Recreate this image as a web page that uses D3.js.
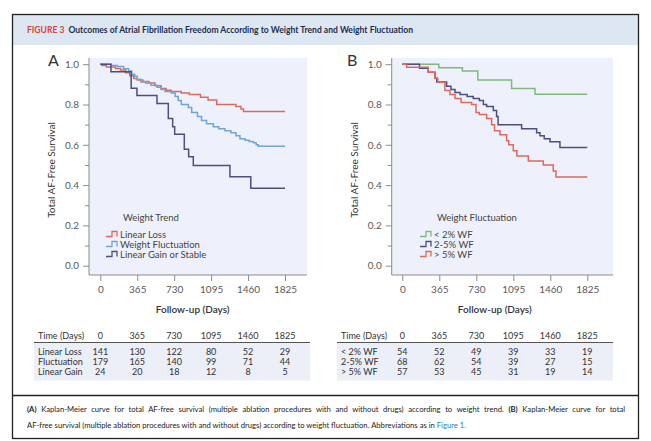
<!DOCTYPE html>
<html>
<head>
<meta charset="utf-8">
<script src="https://cdn.jsdelivr.net/npm/d3@7"></script>
<style>
  body { margin: 0; background: #fff; }
  text { font-family: Lato, "Open Sans", sans-serif; }
</style>
</head>
<body>
<svg id="fig" width="651" height="441"></svg>
<script>
// DATA
const dayTicks = [0, 365, 730, 1095, 1460, 1825];
const survTicks = [0, 0.2, 0.4, 0.6, 0.8, 1.0];
const survMinor = [0.1, 0.3, 0.5, 0.7, 0.9];

// panel A - weight trend (event day, survival after the step)
const lossDays = [0, 15, 60, 150, 200, 250, 290, 330, 365, 420, 480, 540, 600, 650, 700, 800, 880, 990, 1065, 1150, 1340, 1390, 1415];
const lossSurv = [1.0, 0.993, 0.986, 0.979, 0.971, 0.957, 0.943, 0.929, 0.921, 0.914, 0.907, 0.893, 0.879, 0.871, 0.864, 0.857, 0.85, 0.836, 0.822, 0.80, 0.79, 0.778, 0.765];
const flucDays = [0, 110, 170, 230, 280, 310, 340, 365, 400, 450, 500, 560, 600, 640, 700, 740, 770, 800, 870, 903, 960, 1000, 1050, 1117, 1170, 1232, 1290, 1340, 1380, 1430, 1470, 1512, 1540, 1561];
const flucSurv = [1.0, 0.994, 0.989, 0.978, 0.966, 0.95, 0.94, 0.925, 0.912, 0.905, 0.895, 0.885, 0.875, 0.865, 0.857, 0.84, 0.82, 0.80, 0.785, 0.76, 0.74, 0.72, 0.705, 0.69, 0.68, 0.67, 0.66, 0.645, 0.63, 0.622, 0.616, 0.61, 0.60, 0.593];
const gainDays = [0, 105, 305, 362, 560, 672, 715, 735, 830, 873, 919, 1281, 1487];
const gainSurv = [1.0, 0.962, 0.881, 0.845, 0.805, 0.73, 0.69, 0.652, 0.578, 0.541, 0.497, 0.442, 0.384];

// panel B - weight fluctuation
const wfLowDays = [0, 360, 593, 745, 1078, 1309];
const wfLowSurv = [1.0, 0.982, 0.966, 0.921, 0.879, 0.851];
const wfMidDays = [0, 170, 256, 322, 340, 437, 480, 520, 570, 640, 700, 760, 800, 832, 898, 930, 945, 1177, 1325, 1358, 1400, 1457, 1555];
const wfMidSurv = [1.0, 0.98, 0.96, 0.93, 0.912, 0.89, 0.875, 0.86, 0.85, 0.84, 0.83, 0.82, 0.80, 0.79, 0.77, 0.74, 0.70, 0.68, 0.66, 0.645, 0.63, 0.615, 0.587];
const wfHighDays = [0, 43, 256, 320, 350, 420, 470, 520, 580, 684, 727, 760, 832, 881, 910, 963, 1029, 1050, 1095, 1130, 1243, 1391, 1489, 1516];
const wfHighSurv = [1.0, 0.985, 0.96, 0.93, 0.91, 0.87, 0.85, 0.83, 0.81, 0.80, 0.76, 0.75, 0.73, 0.70, 0.67, 0.65, 0.62, 0.60, 0.57, 0.545, 0.52, 0.50, 0.47, 0.44];

// at-risk tables
const trendGroups = ["Linear Loss", "Fluctuation", "Linear Gain"];
const trendAtRisk = [[141, 130, 122, 80, 52, 29], [179, 165, 140, 99, 71, 44], [24, 20, 18, 12, 8, 5]];
const wfGroups = ["< 2% WF", "2-5% WF", "> 5% WF"];
const wfAtRisk = [[54, 52, 49, 39, 33, 19], [68, 62, 54, 39, 27, 15], [57, 53, 45, 31, 19, 14]];

const trendLegend = ["Linear Loss", "Weight Fluctuation", "Linear Gain or Stable"];
const wfLegend = ["< 2% WF", "2-5% WF", "> 5% WF"];

// COLOURS
const red = "#dc6a5c";
const lightBlue = "#6fa6d6";
const navy = "#4b4f82";
const green = "#7dba7b";
const axisGrey = "#8c8c8c";
const textGrey = "#5a5a5a";

const svg = d3.select("#fig");

// shrink/grow a text's font so it spans a given width
function fitWidth(sel, width) {
  const size = parseFloat(sel.attr("font-size"));
  const w = sel.node().getComputedTextLength();
  sel.attr("font-size", size * width / w);
}

// frame + title band
svg.append("rect").attr("width", 651).attr("height", 441).attr("fill", "#fff");
svg.append("rect").attr("x", 12.5).attr("y", 15).attr("width", 626).attr("height", 30).attr("fill", "#dde7f2");
svg.append("rect").attr("x", 12.5).attr("y", 14.5).attr("width", 626).attr("height", 424)
    .attr("fill", "none").attr("stroke", "#222").attr("stroke-width", 1.3);
svg.append("line").attr("x1", 12.5).attr("x2", 638.5).attr("y1", 395.5).attr("y2", 395.5)
    .attr("stroke", "#222").attr("stroke-width", 1.3);

const title = svg.append("text").attr("x", 27).attr("y", 32.5)
    .attr("font-size", 8).attr("font-weight", "bold");
title.append("tspan").attr("fill", "#d9433b").text("FIGURE 3");
title.append("tspan").attr("fill", "#1f2d4d").attr("dx", 4).text("Outcomes of Atrial Fibrillation Freedom According to Weight Trend and Weight Fluctuation");
fitWidth(title, 383);

// caption: second line sets the font size, first line is justified
const cap2 = svg.append("text").attr("x", 27).attr("y", 428).attr("font-size", 8).attr("fill", "#222");
cap2.append("tspan").text("AF-free survival (multiple ablation procedures with and without drugs) according to weight fluctuation. Abbreviations as in ");
cap2.append("tspan").attr("fill", "#2a7fc1").text("Figure 1.");
fitWidth(cap2, 440);
const cap1 = svg.append("text").attr("x", 27).attr("y", 412).attr("font-size", cap2.attr("font-size")).attr("fill", "#222");
cap1.append("tspan").attr("font-weight", "bold").text("(A)");
cap1.append("tspan").text(" Kaplan-Meier curve for total AF-free survival (multiple ablation procedures with and without drugs) according to weight trend. ");
cap1.append("tspan").attr("font-weight", "bold").text("(B)");
cap1.append("tspan").text(" Kaplan-Meier curve for total");
const spaces = cap1.text().split(" ").length - 1;
cap1.attr("word-spacing", Math.max(0, (598 - cap1.node().getComputedTextLength()) / spaces));

// one KM panel
function drawPanel(opts) {
  const x = d3.scaleLinear().domain([0, 1825]).range(opts.xRange);
  const y = d3.scaleLinear().domain([0, 1]).range([265.7, 64.2]);
  const g = svg.append("g");

  g.append("rect").attr("x", opts.bg[0]).attr("y", 58).attr("width", opts.bg[1] - opts.bg[0])
      .attr("height", 217).attr("fill", "#eef1fb");

  // axes
  const yAxis = g.append("g").attr("transform", `translate(${opts.bg[0]},0)`)
      .call(d3.axisLeft(y).tickValues(survTicks).tickFormat(d3.format(".1f")).tickSize(6).tickPadding(4));
  const yMinor = g.append("g").attr("transform", `translate(${opts.bg[0]},0)`)
      .call(d3.axisLeft(y).tickValues(survMinor).tickFormat("").tickSize(4));
  const xAxis = g.append("g").attr("transform", "translate(0,275)")
      .call(d3.axisBottom(x).tickValues(dayTicks).tickFormat(d3.format("d")).tickSize(6).tickPadding(5));
  for (const a of [yAxis, yMinor, xAxis]) {
    a.select(".domain").remove();
    a.selectAll("line").attr("stroke", axisGrey);
    a.selectAll("text").attr("fill", textGrey).attr("font-size", 10).attr("font-family", "Lato, sans-serif");
  }
  g.append("line").attr("x1", opts.bg[0]).attr("x2", opts.bg[0]).attr("y1", 58).attr("y2", 275).attr("stroke", axisGrey);
  g.append("line").attr("x1", opts.bg[0]).attr("x2", opts.bg[1]).attr("y1", 275).attr("y2", 275).attr("stroke", axisGrey);

  // titles
  g.append("text").attr("x", opts.letterX).attr("y", 66).attr("font-size", 16).attr("fill", "#333").text(opts.letter);
  g.append("text").attr("transform", `translate(${opts.yTitleX},170) rotate(-90)`)
      .attr("text-anchor", "middle").attr("font-size", 10).attr("fill", "#333").text("Total AF-Free Survival");
  g.append("text").attr("x", (opts.xRange[0] + opts.xRange[1]) / 2).attr("y", 313)
      .attr("text-anchor", "middle").attr("font-size", 10).attr("font-weight", 600).attr("fill", "#333").text("Follow-up (Days)");

  // curves
  const line = d3.line().x(d => x(d[0])).y(d => y(d[1])).curve(d3.curveStepAfter);
  opts.series.forEach(s => {
    const pts = s.days.map((d, i) => [d, s.surv[i]]);
    pts.push([1825, s.surv[s.surv.length - 1]]);
    g.append("path").datum(pts).attr("d", line).attr("fill", "none")
        .attr("stroke", s.color).attr("stroke-width", 1.5);
  });

  // legend
  g.append("text").attr("x", opts.legend[0] + 3).attr("y", 221).attr("font-size", 9.5)
      .attr("fill", "#444").text(opts.legendTitle);
  opts.series.forEach((s, i) => {
    const ly = 234 + i * 10;
    const lx = opts.legend[0] - 14;
    g.append("path").attr("d", `M${lx},${ly + 2.5}H${lx + 6}V${ly - 2.5}H${lx + 11}V${ly + 2.5}`)
        .attr("fill", "none").attr("stroke", s.color).attr("stroke-width", 1.3);
    g.append("text").attr("x", opts.legend[0]).attr("y", ly + 3.5).attr("font-size", 9.5)
        .attr("fill", "#444").text(s.name);
  });

  // at-risk table
  g.append("rect").attr("x", opts.table[0]).attr("y", 342.5).attr("width", opts.table[1] - opts.table[0])
      .attr("height", 38).attr("fill", "#eceef8");
  g.append("line").attr("x1", opts.table[0]).attr("x2", opts.table[1]).attr("y1", 342.5).attr("y2", 342.5)
      .attr("stroke", "#555").attr("stroke-width", 1);
  g.append("text").attr("x", opts.table[0] + 4).attr("y", 338.5).attr("font-size", 9).attr("fill", "#333").text("Time (Days)");
  g.selectAll(null).data(dayTicks).join("text")
      .attr("x", d => x(d)).attr("y", 338.5).attr("text-anchor", "middle")
      .attr("font-size", 9).attr("fill", "#333").text(d => d);
  opts.groups.forEach((name, r) => {
    const ry = 354.5 + r * 10;
    g.append("text").attr("x", opts.table[0] + 4).attr("y", ry).attr("font-size", 9).attr("fill", "#333").text(name);
    g.selectAll(null).data(opts.atRisk[r]).join("text")
        .attr("x", (d, i) => x(dayTicks[i])).attr("y", ry).attr("text-anchor", "middle")
        .attr("font-size", 9).attr("fill", "#333").text(d => d);
  });
}

drawPanel({
  letter: "A", letterX: 48, yTitleX: 55,
  xRange: [100.3, 285], bg: [89, 307],
  legend: [120], legendTitle: "Weight Trend",
  table: [34, 310],
  groups: trendGroups, atRisk: trendAtRisk,
  series: [
    { name: trendLegend[0], days: lossDays, surv: lossSurv, color: red },
    { name: trendLegend[1], days: flucDays, surv: flucSurv, color: lightBlue },
    { name: trendLegend[2], days: gainDays, surv: gainSurv, color: navy }
  ]
});

drawPanel({
  letter: "B", letterX: 347, yTitleX: 358,
  xRange: [402.3, 587.3], bg: [391.7, 613],
  legend: [434], legendTitle: "Weight Fluctuation",
  table: [337, 613],
  groups: wfGroups, atRisk: wfAtRisk,
  series: [
    { name: wfLegend[0], days: wfLowDays, surv: wfLowSurv, color: green },
    { name: wfLegend[1], days: wfMidDays, surv: wfMidSurv, color: navy },
    { name: wfLegend[2], days: wfHighDays, surv: wfHighSurv, color: red }
  ]
});
</script>
</body>
</html>
